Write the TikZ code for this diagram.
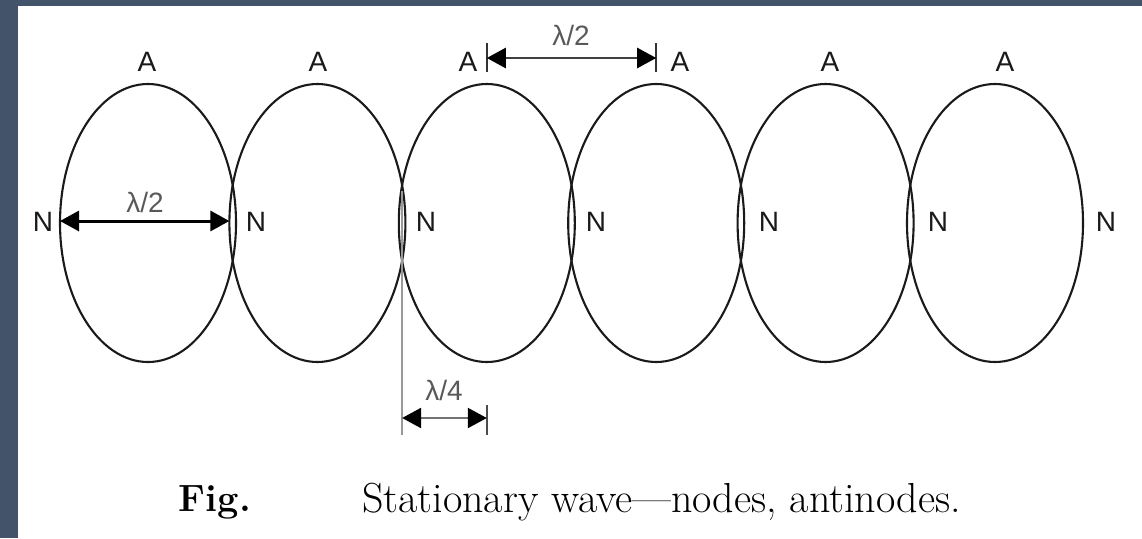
\documentclass[tikz,border=0pt]{standalone}
\usepackage{fontspec}
\newfontfamily\labfont{Liberation Sans}
\usetikzlibrary{arrows.meta,shapes.geometric,calc}
\definecolor{frame}{HTML}{42536A}
\definecolor{ink}{HTML}{1A1A1A}
\tikzset{
  loop/.style={draw=ink, line width=2.1pt, ellipse, minimum width=176pt, minimum height=278pt, inner sep=0pt, outer sep=0pt},
  lab/.style={font=\labfont\fontsize{28}{30}\selectfont, text=ink, inner sep=0pt},
  dimlab/.style={font=\labfont\fontsize{28}{30}\selectfont, text=black!65, inner sep=0pt},
  dimarrow/.style={line width=3pt, {Triangle[length=19pt,width=20pt,color=black]}-{Triangle[length=19pt,width=20pt,color=black]}},
  tick/.style={line width=2pt, draw=black!80},
  caption/.style={font=\fontsize{42}{44}\selectfont, inner sep=0pt}
}
\begin{document}
\begin{tikzpicture}[x=1pt,y=-1pt]
\useasboundingbox (0,0) rectangle (1142,538);
\fill[white] (0,0) rectangle (1142,538);
\fill[frame] (0,0) rectangle (18,538);
\fill[frame] (0,0) rectangle (1142,6);
% loops
\foreach \i/\cx in {1/148,2/317.4,3/486.8,4/656.2,5/825.6,6/995}{
  \node[loop] (L\i) at (\cx,223) {};
}
% crossing points (nodes)
\coordinate (C1) at ($(L1.center)!0.5!(L2.center)$);
\coordinate (C2) at ($(L2.center)!0.5!(L3.center)$);
% antinode labels
\node[lab] (A1) at (147,62) {A};
\node[lab] (A2) at (318,62) {A};
\node[lab] (A3) at (468,62) {A};
\node[lab] (A4) at (680,62) {A};
\node[lab] (A5) at (830,62) {A};
\node[lab] (A6) at (1005,62) {A};
% node labels
\node[lab] (N0) at (43,222) {N};
\node[lab] (N1) at (256,222) {N};
\node[lab] (N2) at (426,222) {N};
\node[lab] (N3) at (596,222) {N};
\node[lab] (N4) at (769,222) {N};
\node[lab] (N5) at (938,222) {N};
\node[lab] (N6) at (1106,222) {N};
% left lambda/2
\coordinate (p0) at ([yshift=2pt]L1.west);
\coordinate (p1) at ([yshift=2pt]L2.west);
\draw[dimarrow, draw=black] (p0) -- (p1);
\node[dimlab] (l1) at (145,202) {λ/2};
% top lambda/2
\coordinate (t3a) at (L3.north |- 0,43);
\coordinate (t3b) at (L3.north |- 0,72);
\coordinate (t4a) at (L4.north |- 0,43);
\coordinate (t4b) at (L4.north |- 0,72);
\draw[tick] (t3a) -- (t3b);
\draw[tick] (t4a) -- (t4b);
\coordinate (u3) at (L3.north |- 0,58);
\coordinate (u4) at (L4.north |- 0,58);
\draw[dimarrow, draw=black!75, line width=2.6pt] (u3) -- (u4);
\node[dimlab] (l2) at (571,35) {λ/2};
% lambda/4
\coordinate (v0) at ([yshift=32pt]C2);
\coordinate (v1) at (C2 |- 0,435);
\draw[line width=2.2pt, draw=black!40] (v0) -- (v1);
\coordinate (w0) at (C2 |- 0,418);
\coordinate (w1) at (L3.center |- 0,418);
\coordinate (x0) at (L3.center |- 0,405);
\coordinate (x1) at (L3.center |- 0,435);
\draw[tick, draw=black!70] (x0) -- (x1);
\draw[dimarrow, draw=black!55, line width=2.2pt] (w0) -- (w1);
\node[dimlab] (l3) at (444,390) {λ/4};
% caption
\node[caption, font=\bfseries\fontsize{38}{40}\selectfont] (fig) at (215,502) {Fig.};
\node[caption, anchor=west] (cap) at (362,502) {Stationary wave---nodes, antinodes.};
\end{tikzpicture}
\end{document}
